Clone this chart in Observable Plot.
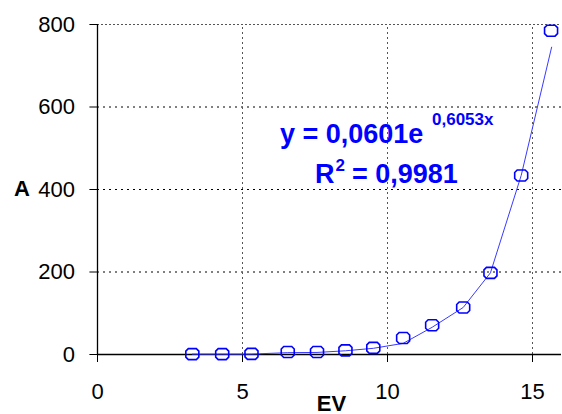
<!DOCTYPE html>
<html>
<head>
<meta charset="utf-8">
<script src="https://cdn.jsdelivr.net/npm/d3@7"></script>
<script src="https://cdn.jsdelivr.net/npm/@observablehq/plot@0.6"></script>
<style>
  html, body { margin: 0; padding: 0; background: #fff; }
  #chart svg { display: block; }
</style>
</head>
<body>
<div id="chart"></div>
<script>
// Measured points (EV, A)
const ev = [3.27, 4.30, 5.31, 6.56, 7.57, 8.55, 9.51, 10.54, 11.54, 12.61, 13.55, 14.61, 15.64];
const aValues = [1, 1, 1.5, 6, 6, 10, 16, 40, 71, 114, 198, 434, 785];
// Trend line as drawn in the picture
const trendX = [3.27, 4.30, 5.31, 6.56, 7.57, 8.55, 9.51, 10.54, 11.54, 12.61, 13.55, 14.61, 15.66];
const trendY = [1, 1, 1, 4.5, 5, 9, 15, 27, 66, 114, 198, 434, 745];
const xTicks = [0, 5, 10, 15];
const yTicks = [0, 200, 400, 600, 800];
const gridX = [5, 10, 15];
const gridY = [200, 400, 600];
const topY = [800];

const points = ev.map((x, i) => ({x, y: aValues[i]}));
const trend = trendX.map((x, i) => ({x, y: trendY[i]}));

const octo = {
  draw(ctx) {
    const w = 6.5, h = 5.5, c = 2.5;
    ctx.moveTo(-w + c, -h); ctx.lineTo(w - c, -h); ctx.lineTo(w, -h + c);
    ctx.lineTo(w, h - c); ctx.lineTo(w - c, h); ctx.lineTo(-w + c, h);
    ctx.lineTo(-w, h - c); ctx.lineTo(-w, -h + c); ctx.closePath();
  }
};

const FONT = "'Liberation Sans', Arial, sans-serif";
const blue = "#0000ff";

const plot = Plot.plot({
  width: 562,
  height: 414,
  marginLeft: 97,
  marginRight: 1,
  marginTop: 24,
  marginBottom: 60,
  style: {fontFamily: FONT, background: "#fff", overflow: "visible"},
  x: {domain: [0, 16]},
  y: {domain: [0, 800]},
  marks: [
    Plot.ruleY(gridY, {stroke: "#000", strokeWidth: 1, strokeDasharray: "2,4"}),
    Plot.ruleY(topY, {stroke: "#555", strokeWidth: 1, strokeDasharray: "2,2"}),
    Plot.ruleX(gridX, {y1: 0, y2: 800, stroke: "#555", strokeWidth: 1, strokeDasharray: "2,3"}),
    Plot.ruleY([0], {stroke: "#000", strokeWidth: 1.3}),
    Plot.ruleX([0], {y1: 0, y2: 800, stroke: "#000", strokeWidth: 1.3}),
    Plot.axisY({ticks: yTicks, tickSize: 7.6, tickPadding: 15, fontSize: 22, label: null, tickFormat: d => String(d), stroke: "#000"}),
    Plot.axisX({ticks: xTicks, tickSize: 8, tickPadding: 21, fontSize: 22, label: null, tickFormat: d => String(d), stroke: "#000"}),
    Plot.line(trend, {x: "x", y: "y", stroke: "#3a3aff", strokeWidth: 1}),
    Plot.dot(points, {x: "x", y: "y", symbol: octo, r: 6, stroke: blue, strokeWidth: 1.6, fill: "none"})
  ]
});

document.getElementById("chart").appendChild(plot);

const svg = d3.select(plot);
svg.selectAll("g[aria-label='x-axis tick label'] text, g[aria-label='y-axis tick label'] text").attr("fill", "#000");

// axis titles
svg.append("text").attr("x", 14).attr("y", 196).attr("text-anchor", "start").attr("font-size", 22).attr("font-weight", "bold")
  .attr("font-family", FONT).attr("fill", "#000").text("A");
svg.append("text").attr("x", 331.5).attr("y", 411).attr("text-anchor", "middle").attr("font-size", 22)
  .attr("font-weight", "bold").attr("font-family", FONT).attr("fill", "#000").text("EV");

// trendline equation
const eq = svg.append("g").attr("font-family", FONT).attr("font-weight", "bold").attr("fill", blue).attr("text-anchor", "start");
eq.append("text").attr("x", 280).attr("y", 143).attr("font-size", 27).text("y = 0,0601e");
eq.append("text").attr("x", 432).attr("y", 125).attr("font-size", 17).text("0,6053x");
eq.append("text").attr("x", 315).attr("y", 183).attr("font-size", 27).text("R");
eq.append("text").attr("x", 335.5).attr("y", 171).attr("font-size", 17).text("2");
eq.append("text").attr("x", 352).attr("y", 183).attr("font-size", 27).text("= 0,9981");
</script>
</body>
</html>
